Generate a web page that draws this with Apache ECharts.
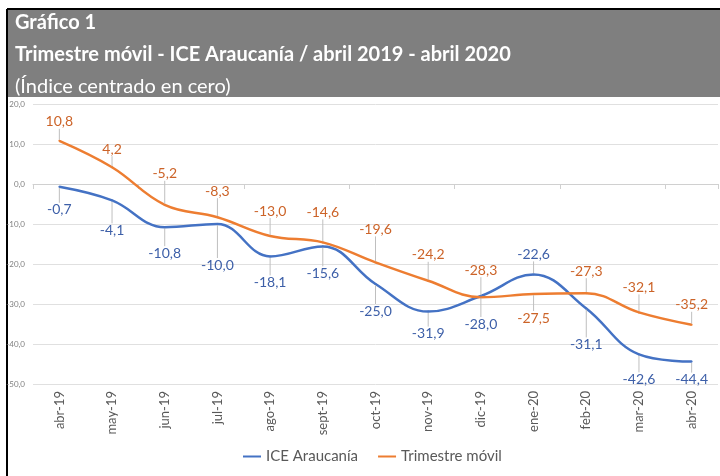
<!DOCTYPE html>
<html>
<head>
<meta charset="utf-8">
<script src="https://cdn.jsdelivr.net/npm/echarts@6/dist/echarts.min.js"></script>
<style>
  html, body { margin: 0; padding: 0; background: #ffffff; }
  #chart { width: 720px; height: 476px; }
</style>
</head>
<body>
<div id="chart"></div>
<script>
const months = ['abr-19', 'may-19', 'jun-19', 'jul-19', 'ago-19', 'sept-19', 'oct-19',
  'nov-19', 'dic-19', 'ene-20', 'feb-20', 'mar-20', 'abr-20']
const iceAraucania = [-0.7, -4.1, -10.8, -10.0, -18.1, -15.6, -25.0, -31.9, -28.0, -22.6, -31.1, -42.6, -44.4]
const trimestreMovil = [10.8, 4.2, -5.2, -8.3, -13.0, -14.6, -19.6, -24.2, -28.3, -27.5, -27.3, -32.1, -35.2]
const titleLines = ['Gráfico 1', 'Trimestre móvil - ICE Araucanía / abril 2019 - abril 2020', '(Índice centrado en cero)']

// label placement (vertical shift from the point, px)
const iceLabelDy = [23, 30, 26, 41, 26, 27, 27, 22, 28, -20, 36, 25, 18]
const trimLabelDy = [-19, -18, -31, -26, -25, -30, -33, -26, -27, 24, -22, -25, -20]

const fmt = v => v.toFixed(1).replace('.', ',')
const FONT = 'Lato'

const chart = echarts.init(document.getElementById('chart'))

function lineSeries(name, data, color, labelColor, dyList) {
  return {
    name,
    type: 'line',
    xAxisIndex: 0,
    data,
    smooth: 0.4,
    symbol: 'circle',
    symbolSize: 2,
    color,
    lineStyle: { color, width: 2.5 },
    itemStyle: { color },
    label: {
      show: true,
      position: 'inside',
      color: labelColor,
      fontFamily: FONT,
      fontSize: 14,
      formatter: p => fmt(p.value)
    },
    labelLine: {
      show: true,
      lineStyle: { color: '#bfbfbf', width: 1 }
    },
    labelLayout: p => ({ dy: dyList[p.dataIndex] }),
    emphasis: { disabled: true }
  }
}

chart.setOption({
  animation: false,
  textStyle: { fontFamily: FONT },
  title: titleLines.map((t, i) => ({
    text: t,
    left: 10,
    top: 8 + i * 32,
    textStyle: {
      color: '#ffffff',
      fontFamily: FONT,
      fontSize: 20,
      fontWeight: i < 2 ? 'bold' : 'normal'
    }
  })),
  graphic: [
    { type: 'rect', z: -1, shape: { x: 8, y: 10, width: 712, height: 87 }, style: { fill: '#7f7f7f' } },
    { type: 'line', shape: { x1: 7, y1: 9, x2: 720, y2: 9 }, style: { stroke: '#000000', lineWidth: 2 } },
    { type: 'line', shape: { x1: 7, y1: 9, x2: 7, y2: 476 }, style: { stroke: '#000000', lineWidth: 2 } }
  ],
  legend: {
    bottom: 7,
    left: 238,
    icon: 'rect',
    itemWidth: 18,
    itemHeight: 2,
    itemGap: 20,
    itemTextGap: 3,
    textStyle: { color: '#595959', fontSize: 15, fontFamily: FONT },
    data: ['ICE Araucanía', 'Trimestre móvil']
  },
  grid: { left: 33, right: 2, top: 104, bottom: 92 },
  xAxis: [
    {
      type: 'category',
      data: months,
      position: 'bottom',
      axisLine: { show: false, onZero: false },
      axisTick: { show: false },
      axisLabel: { rotate: 90, color: '#595959', fontSize: 13, fontFamily: FONT, margin: 7, interval: 0 }
    },
    {
      type: 'category',
      data: months,
      position: 'bottom',
      axisLine: { show: true, onZero: true, lineStyle: { color: '#d0d0d0', width: 1 } },
      axisTick: { show: true, length: 5, lineStyle: { color: '#d0d0d0' } },
      axisLabel: { show: false }
    }
  ],
  yAxis: {
    type: 'value',
    min: -50,
    max: 20,
    interval: 10,
    axisLine: { show: false },
    axisTick: { show: false },
    axisLabel: { color: '#808080', fontSize: 8, fontFamily: FONT, margin: 8, formatter: v => fmt(v) },
    splitLine: { lineStyle: { color: '#e0e0e0', width: 1 } }
  },
  series: [
    lineSeries('ICE Araucanía', iceAraucania, '#4472c4', '#3d5fa8', iceLabelDy),
    lineSeries('Trimestre móvil', trimestreMovil, '#ed7d31', '#cc6328', trimLabelDy)
  ]
})
</script>
</body>
</html>
